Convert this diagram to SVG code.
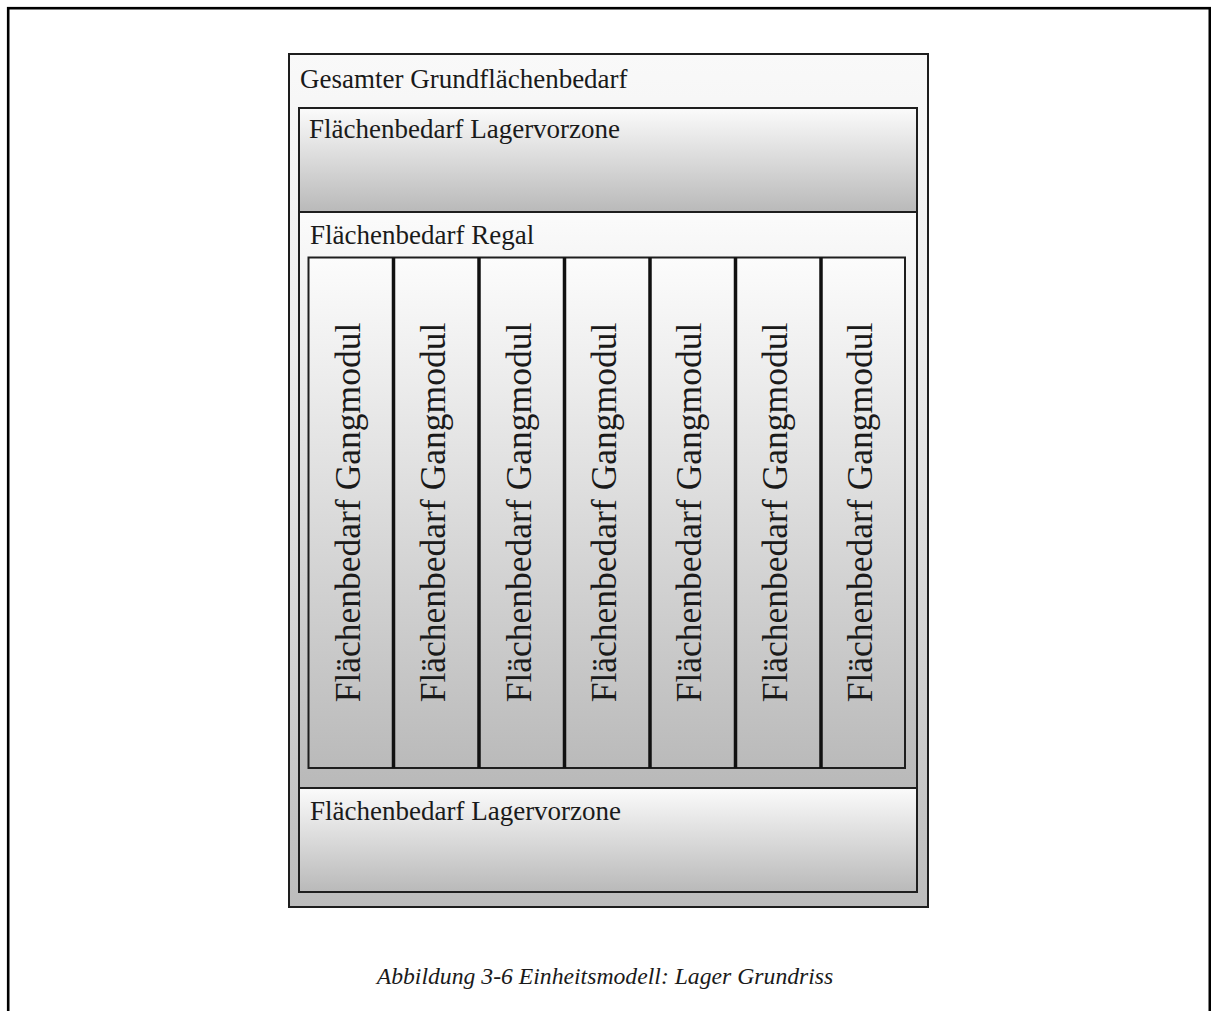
<svg xmlns="http://www.w3.org/2000/svg" width="1211" height="1011" viewBox="0 0 1211 1011">
<defs>
<linearGradient id="gOuter" x1="0" y1="0" x2="0" y2="1">
<stop offset="0" stop-color="#f9f9f9"/>
<stop offset="0.35" stop-color="#ececec"/>
<stop offset="1" stop-color="#bcbcbc"/>
</linearGradient>
<linearGradient id="gBox" x1="0" y1="0" x2="0" y2="1">
<stop offset="0" stop-color="#fbfbfb"/>
<stop offset="1" stop-color="#b9b9b9"/>
</linearGradient>
<linearGradient id="gMod" x1="0" y1="0" x2="0" y2="1">
<stop offset="0" stop-color="#fcfcfc"/>
<stop offset="1" stop-color="#bababa"/>
</linearGradient>
</defs>
<style>
.box{stroke:#1e1e1e;stroke-width:2}
.lbl{font-family:"Liberation Serif","Times New Roman",serif;font-size:27px;fill:#1a1a1a}
.vl{font-family:"Liberation Serif","Times New Roman",serif;font-size:35.5px;fill:#1a1a1a;text-anchor:middle}
.div{stroke:#111;stroke-width:3.5}
.cap{font-family:"Liberation Serif","Times New Roman",serif;font-style:italic;font-size:23.7px;fill:#1a1a1a;text-anchor:middle}
</style>
<rect x="0" y="0" width="1211" height="1011" fill="#fff"/>
<rect x="8.2" y="8.2" width="1201.6" height="1100" fill="none" stroke="#000" stroke-width="2.6"/>

<g id="gesamt">
<rect class="box" x="289" y="54" width="639" height="853" fill="url(#gOuter)"/>
<text class="lbl" x="300" y="88">Gesamter Grundflächenbedarf</text>
</g>

<g id="lagervorzone-oben">
<rect class="box" x="299" y="108" width="618" height="104" fill="url(#gBox)"/>
<text class="lbl" x="309" y="138">Flächenbedarf Lagervorzone</text>
</g>

<g id="regal">
<rect class="box" x="299" y="212" width="618" height="576" fill="url(#gBox)"/>
<text class="lbl" x="310" y="244">Flächenbedarf Regal</text>
</g>

<g id="gangmodule">
<rect class="box" x="308.5" y="257.5" width="596.5" height="510.5" fill="url(#gMod)"/>
</g>

<g id="connectors">
<line class="div" x1="393.5" y1="257.5" x2="393.5" y2="768"/>
<line class="div" x1="479" y1="257.5" x2="479" y2="768"/>
<line class="div" x1="564.5" y1="257.5" x2="564.5" y2="768"/>
<line class="div" x1="650" y1="257.5" x2="650" y2="768"/>
<line class="div" x1="735.5" y1="257.5" x2="735.5" y2="768"/>
<line class="div" x1="821" y1="257.5" x2="821" y2="768"/>
</g>

<g id="modul1"><text class="vl" transform="translate(360,512.5) rotate(-90)">Flächenbedarf Gangmodul</text></g>
<g id="modul2"><text class="vl" transform="translate(445.3,512.5) rotate(-90)">Flächenbedarf Gangmodul</text></g>
<g id="modul3"><text class="vl" transform="translate(530.6,512.5) rotate(-90)">Flächenbedarf Gangmodul</text></g>
<g id="modul4"><text class="vl" transform="translate(615.9,512.5) rotate(-90)">Flächenbedarf Gangmodul</text></g>
<g id="modul5"><text class="vl" transform="translate(701.2,512.5) rotate(-90)">Flächenbedarf Gangmodul</text></g>
<g id="modul6"><text class="vl" transform="translate(786.5,512.5) rotate(-90)">Flächenbedarf Gangmodul</text></g>
<g id="modul7"><text class="vl" transform="translate(871.8,512.5) rotate(-90)">Flächenbedarf Gangmodul</text></g>

<g id="lagervorzone-unten">
<rect class="box" x="299" y="788" width="618" height="104" fill="url(#gBox)"/>
<text class="lbl" x="310" y="820">Flächenbedarf Lagervorzone</text>
</g>

<text class="cap" x="605" y="984">Abbildung 3-6 Einheitsmodell: Lager Grundriss</text>
</svg>
